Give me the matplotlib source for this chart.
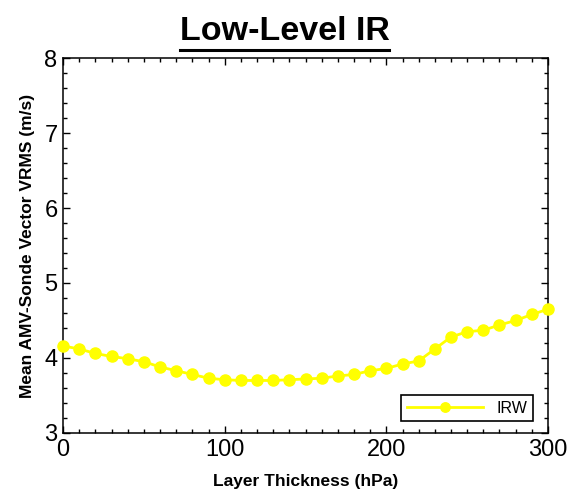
import numpy as np
import matplotlib.pyplot as plt
from matplotlib.lines import Line2D
from matplotlib.ticker import MultipleLocator

plt.rcParams['font.family'] = ['Liberation Sans', 'DejaVu Sans']

# layer thickness (hPa) and mean vector RMS (m/s)
thickness = list(range(0, 301, 10))
vrms_irw = [4.16, 4.12, 4.06, 4.02, 3.99, 3.95, 3.88, 3.83, 3.78, 3.73,
            3.71, 3.70, 3.70, 3.70, 3.71, 3.72, 3.73, 3.76, 3.78, 3.83,
            3.86, 3.92, 3.96, 4.12, 4.28, 4.35, 4.37, 4.44, 4.50, 4.58,
            4.65]

fig = plt.figure(figsize=(5.69, 4.92), dpi=100)
ax = fig.add_axes([0.111, 0.120, 0.852, 0.762])

ax.plot(thickness, vrms_irw, color='#FFFF00', lw=2, marker='o',
        markersize=8, label='IRW', clip_on=False, zorder=3)

ax.set_xlim(0, 300)
ax.set_ylim(3, 8)
ax.xaxis.set_major_locator(MultipleLocator(100))
ax.xaxis.set_minor_locator(MultipleLocator(10))
ax.yaxis.set_major_locator(MultipleLocator(1))
ax.yaxis.set_minor_locator(MultipleLocator(0.2))
ax.tick_params(which='both', direction='in', top=True, right=True,
               width=1)
ax.tick_params(which='major', length=5, labelsize=17, pad=4)
ax.tick_params(which='minor', length=3)
for s in ax.spines.values():
    s.set_linewidth(1.1)

ax.set_xlabel('Layer Thickness (hPa)', fontsize=12.5, fontweight='bold',
              labelpad=10)
ax.set_ylabel('Mean AMV-Sonde Vector VRMS (m/s)', fontsize=12.5,
              fontweight='bold', labelpad=7)

leg = ax.legend(loc='lower right', fontsize=11.5, fancybox=False,
                framealpha=1, edgecolor='black', borderpad=0.35,
                handlelength=4.8, markerscale=0.85,
                bbox_to_anchor=(0.985, 0.01))
leg.get_frame().set_linewidth(1.2)

title = fig.text(0.5, 0.919, 'Low-Level IR', ha='center', va='baseline',
                 fontsize=24.5, fontweight='bold')
fig.canvas.draw()
bb = title.get_window_extent().transformed(fig.transFigure.inverted())
fig.add_artist(Line2D([bb.x0, bb.x1], [bb.y0 - 0.007, bb.y0 - 0.007],
                      color='black', lw=2.2, transform=fig.transFigure))

fig.savefig('out.png', dpi=100)
